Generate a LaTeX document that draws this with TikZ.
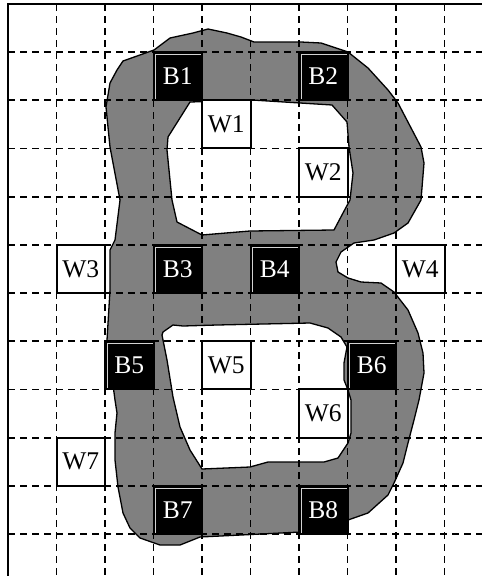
\documentclass[tikz,border=0pt]{standalone}
\usepackage{fontspec}
\setmainfont{Liberation Serif}
\begin{document}
\begin{tikzpicture}[x=1pt,y=-1pt,
  gridline/.style={line width=1.8pt, dash pattern=on 7pt off 5pt},
  frameline/.style={line width=2pt},
  blobshape/.style={fill={rgb,255:red,128;green,128;blue,128}, draw=black, line width=1.3pt, even odd rule, line join=round},
  cellbox/.style={minimum width=48.5pt, minimum height=48.2pt, inner sep=0pt, line width=2pt, font=\fontsize{25.5}{25.5}\selectfont},
  wbox/.style={cellbox, draw=black, fill=white, text=black},
  bbox/.style={cellbox, draw=black, fill=black, text=white,
    path picture={\draw[gray!35, line width=0.8pt]
      ([xshift=2.2pt]path picture bounding box.south west) |-
      ([yshift=-2.2pt]path picture bounding box.north east);}}
]
\useasboundingbox (0,0) rectangle (482,576);
\fill[white] (0,0) rectangle (482,576);
% gray B shape with two holes
\path[blobshape]
 (123,61) -- (154,50) -- (170,38) -- (193,33) -- (208,29) -- (227,33) -- (241,37) -- (254,42) -- (301,42) -- (321,43) -- (348,52) -- (368,68) -- (388,90) -- (398,103) -- (421,147) -- (424,163) -- (421,200) -- (408,223) -- (394,233) -- (374,240) -- (354,243) -- (341,252) -- (336,262) -- (338,272) -- (348,278) -- (361,282) -- (381,283) -- (394,292) -- (408,310) -- (418,333) -- (423,353) -- (424,373) -- (419,400) -- (414,420) -- (408,443) -- (403,463) -- (394,483) -- (388,495) -- (368,513) -- (348,520) -- (301,532) -- (241,535) -- (200,537) -- (180,545) -- (160,545) -- (140,538) -- (130,528) -- (123,513) -- (118,487) -- (115,460) -- (115,433) -- (117,413) -- (115,400) -- (107,340) -- (110,290) -- (110,250) -- (115,240) -- (120,200) -- (110,147) -- (106,107) -- (110,83) -- (117,70) -- cycle
 (190,102) -- (252,100) -- (332,105) -- (347,122) -- (349,147) -- (353,173) -- (350,200) -- (343,213) -- (334,230) -- (250,231) -- (202,235) -- (177,222) -- (172,200) -- (167,150) -- (168,137) -- cycle
 (163,332) -- (173,325) -- (183,326) -- (217,325) -- (310,323) -- (328,328) -- (341,337) -- (347,347) -- (344,363) -- (344,380) -- (348,390) -- (351,400) -- (351,433) -- (348,443) -- (338,458) -- (324,462) -- (268,462) -- (250,467) -- (202,469) -- (190,450) -- (180,427) -- (173,397) -- (167,360) -- (162,335) -- cycle;
% dashed grid
\foreach \k in {0,...,8} \draw[gridline] ({56.5+48.5*\k},4) -- ({56.5+48.5*\k},576);
\foreach \k in {0,...,10} \draw[gridline] (8,{52+48.2*\k}) -- (482,{52+48.2*\k});
% frame
\draw[frameline] (8,600) -- (8,4) -- (500,4);
% cells
\node[bbox] (B1) at ({56.5+48.5*2.5},{52+48.2*0.5}) {B1};
\node[bbox] (B2) at ({56.5+48.5*5.5},{52+48.2*0.5}) {B2};
\node[wbox] (W1) at ({56.5+48.5*3.5},{52+48.2*1.5}) {W1};
\node[wbox] (W2) at ({56.5+48.5*5.5},{52+48.2*2.5}) {W2};
\node[wbox] (W3) at ({56.5+48.5*0.5},{52+48.2*4.5}) {W3};
\node[bbox] (B3) at ({56.5+48.5*2.5},{52+48.2*4.5}) {B3};
\node[bbox] (B4) at ({56.5+48.5*4.5},{52+48.2*4.5}) {B4};
\node[wbox] (W4) at ({56.5+48.5*7.5},{52+48.2*4.5}) {W4};
\node[bbox] (B5) at ({56.5+48.5*1.5},{52+48.2*6.5}) {B5};
\node[wbox] (W5) at ({56.5+48.5*3.5},{52+48.2*6.5}) {W5};
\node[bbox] (B6) at ({56.5+48.5*6.5},{52+48.2*6.5}) {B6};
\node[wbox] (W6) at ({56.5+48.5*5.5},{52+48.2*7.5}) {W6};
\node[wbox] (W7) at ({56.5+48.5*0.5},{52+48.2*8.5}) {W7};
\node[bbox] (B7) at ({56.5+48.5*2.5},{52+48.2*9.5}) {B7};
\node[bbox] (B8) at ({56.5+48.5*5.5},{52+48.2*9.5}) {B8};
\end{tikzpicture}
\end{document}
